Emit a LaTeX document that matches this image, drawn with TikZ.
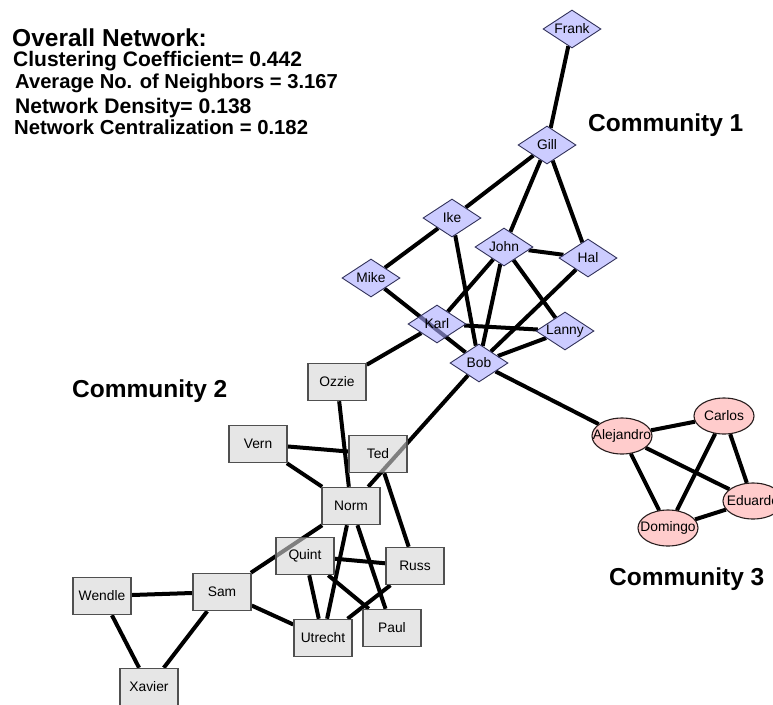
\documentclass[tikz,border=0pt]{standalone}
\usepackage{fontspec}
\setmainfont{Liberation Sans}
\usetikzlibrary{shapes.geometric,backgrounds}
\definecolor{dia}{RGB}{170,170,255}
\definecolor{diaB}{RGB}{50,50,90}
\definecolor{box}{RGB}{213,213,213}
\definecolor{boxB}{RGB}{80,80,80}
\definecolor{ell}{RGB}{255,170,170}
\definecolor{ellB}{RGB}{40,30,30}
\tikzset{
  lbl/.style={font=\fontsize{13.8}{16}\selectfont, text=black},
  dnode/.style={lbl, diamond, draw=diaB, line width=0.9pt, fill=dia, fill opacity=0.6, text opacity=1, draw opacity=1, minimum width=58pt, minimum height=38pt, inner sep=0pt},
  rnode/.style={lbl, rectangle, draw=boxB, line width=1.5pt, fill=box, fill opacity=0.6, text opacity=1, draw opacity=1, minimum width=58pt, minimum height=37pt, inner sep=0pt},
  enode/.style={lbl, ellipse, draw=ellB, line width=1.1pt, fill=ell, fill opacity=0.6, text opacity=1, draw opacity=1, minimum width=60pt, minimum height=36pt, inner sep=0pt},
  edge/.style={draw=black, line width=4pt},
  stat/.style={font=\bfseries, anchor=base west, inner sep=0pt},
  title/.style={font=\bfseries\fontsize{24.5}{28}\selectfont, anchor=base west, inner sep=0pt},
}
\newcommand{\nm}[1]{\makebox[0pt]{#1}}
\newcommand{\fsz}[1]{\fontsize{#1}{#1}\selectfont}
\begin{document}
\begin{tikzpicture}[x=1pt,y=-1pt]
\useasboundingbox (0,0) rectangle (773,704);
% text
\node[title] (t0) at (12,46) {Overall Network:};
\node[stat] (t1) at (13,66) {\fsz{21}Clustering Coefficient= 0.442};
\node[stat] (t2) at (15,88) {\fsz{20.2}Average No. of Neighbors = 3.167};
\node[stat] (t3) at (15,113) {\fsz{21.1}Network Density= 0.138};
\node[stat] (t4) at (14,134) {\fsz{20.3}Network Centralization = 0.182};
\node[title] (c1) at (588,131) {Community 1};
\node[title] (c2) at (72,397) {Community 2};
\node[title] (c3) at (609,585) {Community 3};
% community 1
\node[dnode] (Frank) at (572,29) {\nm{Frank}};
\node[dnode] (Gill) at (547,145) {\nm{Gill}};
\node[dnode] (Ike) at (452,218) {\nm{Ike}};
\node[dnode] (John) at (504,247) {\nm{John}};
\node[dnode] (Hal) at (588,258) {\nm{Hal}};
\node[dnode] (Mike) at (371,278) {\nm{Mike}};
\node[dnode] (Karl) at (437,324) {\nm{Karl}};
\node[dnode] (Lanny) at (565,331) {\nm{Lanny}};
\node[dnode] (Bob) at (479,363) {\nm{Bob}};
% community 3
\node[enode] (Alejandro) at (622,436) {\nm{Alejandro}};
\node[enode] (Carlos) at (724,416) {\nm{Carlos}};
\node[enode] (Eduardo) at (753,501) {\nm{Eduardo}};
\node[enode] (Domingo) at (668,528) {\nm{Domingo}};
% community 2
\node[rnode] (Ozzie) at (337,382) {\nm{Ozzie}};
\node[rnode] (Vern) at (258,444) {\nm{Vern}};
\node[rnode] (Ted) at (378,454) {\nm{Ted}};
\node[rnode] (Norm) at (351,506) {\nm{Norm}};
\node[rnode] (Quint) at (305,556) {\nm{Quint}};
\node[rnode] (Russ) at (415,566) {\nm{Russ}};
\node[rnode] (Utrecht) at (323,638) {\nm{Utrecht}};
\node[rnode] (Paul) at (392,628) {\nm{Paul}};
\node[rnode] (Sam) at (222,592) {\nm{Sam}};
\node[rnode] (Wendle) at (102,596) {\nm{Wendle}};
\node[rnode] (Xavier) at (149,687) {\nm{Xavier}};
\begin{scope}[on background layer]
\foreach \a/\b in {Frank/Gill, Gill/Ike, Ike/Mike, Gill/John, Gill/Hal, Ike/Bob,
  John/Hal, John/Karl, John/Bob, John/Lanny, Hal/Bob, Mike/Bob, Karl/Lanny,
  Karl/Ozzie, Lanny/Bob, Bob/Alejandro, Bob/Norm, Ozzie/Norm, Vern/Ted, Vern/Norm,
  Ted/Russ, Norm/Sam, Norm/Utrecht, Norm/Paul, Quint/Russ, Quint/Utrecht,
  Quint/Paul, Russ/Utrecht, Sam/Utrecht, Sam/Wendle, Sam/Xavier, Wendle/Xavier,
  Alejandro/Carlos, Alejandro/Eduardo, Alejandro/Domingo, Carlos/Domingo,
  Carlos/Eduardo, Domingo/Eduardo}
  \draw[edge] (\a) -- (\b);
\end{scope}
\end{tikzpicture}
\end{document}
